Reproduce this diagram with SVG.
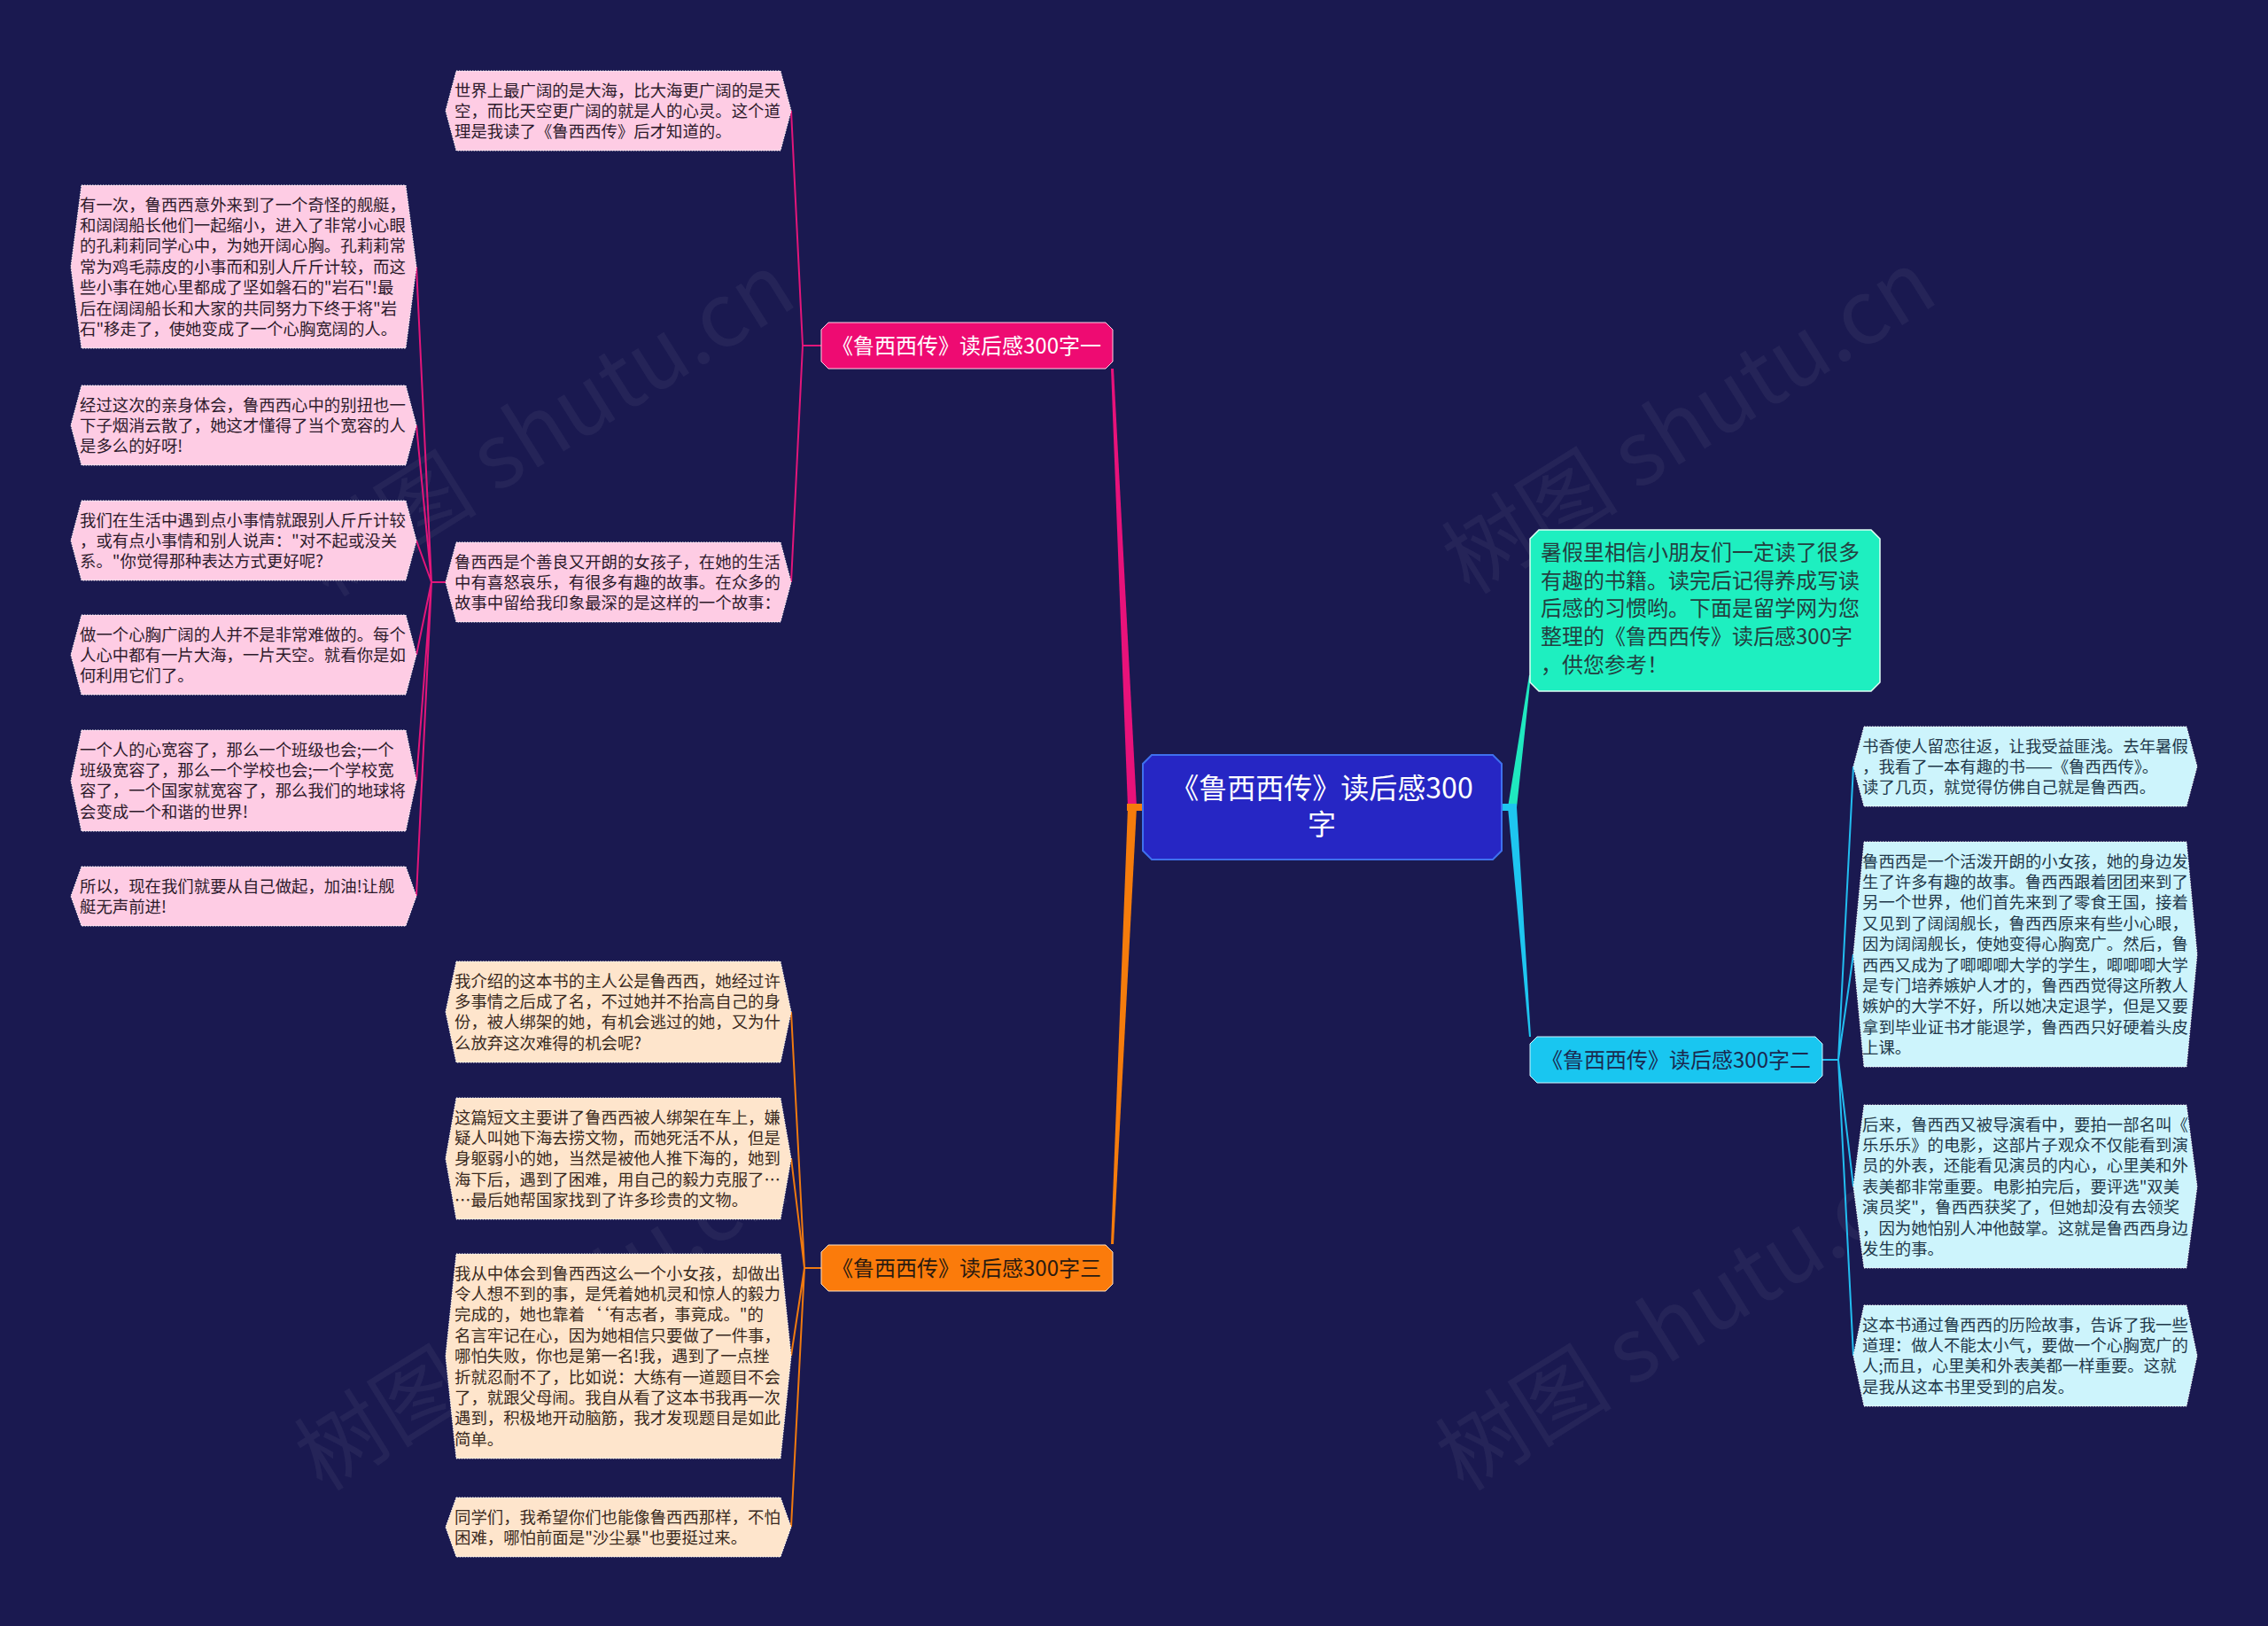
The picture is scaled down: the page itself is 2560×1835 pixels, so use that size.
<svg xmlns="http://www.w3.org/2000/svg" width="2560" height="1835" viewBox="0 0 2560 1835">
<defs>
<style>
.bg{fill:#1a1950}
.wm{font-family:"Noto Sans CJK SC","Noto Sans",sans-serif;font-size:100px;fill:#ffffff;fill-opacity:0.05}
.leaf{stroke:#ffffff;stroke-width:1;stroke-dasharray:1.5 1.5}
.pk{fill:#fecce4}
.pe{fill:#fee5cc}
.cy{fill:#cdf4fc}
.lt{font-family:"Noto Sans CJK SC","Noto Sans",sans-serif;font-size:18.4px}
.tpk{fill:#2d1a2b}
.tpe{fill:#3a2a1e}
.tcy{fill:#22384a}
.c1{stroke:#e2167a;stroke-width:2;fill:none}
.c3{stroke:#f07a10;stroke-width:2;fill:none}
.c2{stroke:#22bdf0;stroke-width:2;fill:none}
.bt{font-family:"Noto Sans CJK SC","Noto Sans",sans-serif;font-size:24px;text-anchor:middle}
</style>
</defs>
<rect class="bg" x="0" y="0" width="2560" height="1835"/>

<g id="watermarks">
<text class="wm" transform="translate(637,509) rotate(-32)" text-anchor="middle">树图 shutu.cn</text>
<text class="wm" transform="translate(1925,506) rotate(-32)" text-anchor="middle">树图 shutu.cn</text>
<text class="wm" transform="translate(630,1518) rotate(-32)" text-anchor="middle">树图 shutu.cn</text>
<text class="wm" transform="translate(1918,1518) rotate(-32)" text-anchor="middle">树图 shutu.cn</text>
</g>

<g id="connectors">
<polygon points="1273,911 1283,911 1257,416 1254,416" fill="#e8127a"/>
<polygon points="1273,911 1283,911 1257,1404 1254,1404" fill="#f57c0c"/>
<rect x="1272" y="907" width="19" height="8" fill="#f57c0c"/>
<polygon points="1702,911 1712,911 1728,762 1726,762" fill="#1fe8c0"/>
<polygon points="1702,911 1712,911 1728,1170 1726,1170" fill="#1ec6f0"/>
<rect x="1694" y="907" width="18" height="8" fill="#1ec6f0"/>
<path class="c1" d="M927,390 L906,390 M906,390 L893,125 M906,390 L893,657"/>
<path class="c1" d="M503,657 L487,657 M487,657 L470,301 M487,657 L470,480 M487,657 L470,610 M487,657 L470,739 M487,657 L470,881 M487,657 L470,1011"/>
<path class="c3" d="M927,1431 L908,1431 M908,1431 L893,1142 M908,1431 L893,1307 M908,1431 L893,1530 M908,1431 L893,1723"/>
<path class="c2" d="M2057,1196 L2075,1196 M2075,1196 L2092,865 M2075,1196 L2092,1077 M2075,1196 L2092,1339 M2075,1196 L2092,1530"/>
</g>

<g id="center">
<path d="M1300,852 L1685,852 L1695,862 L1695,960 L1685,970 L1300,970 L1290,960 L1290,862 Z" fill="#2626c4" stroke="#3f70ee" stroke-width="2"/>
<text font-family="'Noto Sans CJK SC','Noto Sans',sans-serif" font-size="32" fill="#ffffff" text-anchor="middle"><tspan x="1492" y="901">《鲁西西传》读后感300</tspan><tspan x="1492" y="942">字</tspan></text>
</g>

<g id="branch1">
<path d="M935,364 L1248,364 L1256,372 L1256,408 L1248,416 L935,416 L927,408 L927,372 Z" fill="#ee0b72" stroke="#ffd0e4" stroke-width="1"/>
<text class="bt" x="1091" y="399" fill="#ffffff">《鲁西西传》读后感300字一</text>
</g>

<g id="branch3">
<path d="M935,1405 L1248,1405 L1256,1413 L1256,1449 L1248,1457 L935,1457 L927,1449 L927,1413 Z" fill="#fb7b0b" stroke="#ffe0c0" stroke-width="1"/>
<text class="bt" x="1091" y="1440" fill="#2a1a10">《鲁西西传》读后感300字三</text>
</g>

<g id="branch2">
<path d="M1735,1170 L2049,1170 L2057,1178 L2057,1214 L2049,1222 L1735,1222 L1727,1214 L1727,1178 Z" fill="#19c6f0" stroke="#d0f4ff" stroke-width="1"/>
<text class="bt" x="1892" y="1205" fill="#1a2a50">《鲁西西传》读后感300字二</text>
</g>

<g id="intro">
<path d="M1737,598 L2112,598 L2122,608 L2122,770 L2112,780 L1737,780 L1727,770 L1727,608 Z" fill="#1eefc0" stroke="#e0fff5" stroke-width="1.5"/>
<text font-family="'Noto Sans CJK SC','Noto Sans',sans-serif" font-size="24" fill="#234040"><tspan x="1739" y="632"> 暑假里相信小朋友们一定读了很多</tspan><tspan x="1739" y="664">有趣的书籍。读完后记得养成写读</tspan><tspan x="1739" y="695">后感的习惯哟。下面是留学网为您</tspan><tspan x="1739" y="727">整理的《鲁西西传》读后感300字</tspan><tspan x="1739" y="759">，供您参考！</tspan></text>
</g>

<g id="leaf1a">
<path class="leaf pk" d="M515,80 L881,80 L893,125 L881,170 L515,170 L503,125 Z"/>
<text class="lt tpk" y="108.5"><tspan x="513">世界上最广阔的是大海，比大海更广阔的是天</tspan><tspan x="513" dy="23.4">空，而比天空更广阔的就是人的心灵。这个道</tspan><tspan x="513" dy="23.4">理是我读了《鲁西西传》后才知道的。</tspan></text>
</g>

<g id="leaf1b">
<path class="leaf pk" d="M515,612 L881,612 L893,657 L881,702 L515,702 L503,657 Z"/>
<text class="lt tpk" y="640.5"><tspan x="513">鲁西西是个善良又开朗的女孩子，在她的生活</tspan><tspan x="513" dy="23.4">中有喜怒哀乐，有很多有趣的故事。在众多的</tspan><tspan x="513" dy="23.4">故事中留给我印象最深的是这样的一个故事：</tspan></text>
</g>

<g id="leaf2a">
<path class="leaf pk" d="M92,209 L458,209 L470,301 L458,393 L92,393 L80,301 Z"/>
<text class="lt tpk" y="237.5"><tspan x="90">有一次，鲁西西意外来到了一个奇怪的舰艇，</tspan><tspan x="90" dy="23.4">和阔阔船长他们一起缩小，进入了非常小心眼</tspan><tspan x="90" dy="23.4">的孔莉莉同学心中，为她开阔心胸。孔莉莉常</tspan><tspan x="90" dy="23.4">常为鸡毛蒜皮的小事而和别人斤斤计较，而这</tspan><tspan x="90" dy="23.4">些小事在她心里都成了坚如磐石的"岩石"!最</tspan><tspan x="90" dy="23.4">后在阔阔船长和大家的共同努力下终于将"岩</tspan><tspan x="90" dy="23.4">石"移走了，使她变成了一个心胸宽阔的人。</tspan></text>
</g>

<g id="leaf2b">
<path class="leaf pk" d="M92,435 L458,435 L470,480 L458,525 L92,525 L80,480 Z"/>
<text class="lt tpk" y="463.5"><tspan x="90">经过这次的亲身体会，鲁西西心中的别扭也一</tspan><tspan x="90" dy="23.4">下子烟消云散了，她这才懂得了当个宽容的人</tspan><tspan x="90" dy="23.4">是多么的好呀!</tspan></text>
</g>

<g id="leaf2c">
<path class="leaf pk" d="M92,565 L458,565 L470,610 L458,655 L92,655 L80,610 Z"/>
<text class="lt tpk" y="593.5"><tspan x="90">我们在生活中遇到点小事情就跟别人斤斤计较</tspan><tspan x="90" dy="23.4">，或有点小事情和别人说声："对不起或没关</tspan><tspan x="90" dy="23.4">系。"你觉得那种表达方式更好呢?</tspan></text>
</g>

<g id="leaf2d">
<path class="leaf pk" d="M92,694 L458,694 L470,739 L458,784 L92,784 L80,739 Z"/>
<text class="lt tpk" y="722.5"><tspan x="90">做一个心胸广阔的人并不是非常难做的。每个</tspan><tspan x="90" dy="23.4">人心中都有一片大海，一片天空。就看你是如</tspan><tspan x="90" dy="23.4">何利用它们了。</tspan></text>
</g>

<g id="leaf2e">
<path class="leaf pk" d="M92,824 L458,824 L470,881 L458,938 L92,938 L80,881 Z"/>
<text class="lt tpk" y="852.5"><tspan x="90">一个人的心宽容了，那么一个班级也会;一个</tspan><tspan x="90" dy="23.4">班级宽容了，那么一个学校也会;一个学校宽</tspan><tspan x="90" dy="23.4">容了，一个国家就宽容了，那么我们的地球将</tspan><tspan x="90" dy="23.4">会变成一个和谐的世界!</tspan></text>
</g>

<g id="leaf2f">
<path class="leaf pk" d="M92,978 L458,978 L470,1011.5 L458,1045 L92,1045 L80,1011.5 Z"/>
<text class="lt tpk" y="1006.5"><tspan x="90">所以，现在我们就要从自己做起，加油!让舰</tspan><tspan x="90" dy="23.4">艇无声前进!</tspan></text>
</g>

<g id="leaf3a">
<path class="leaf pe" d="M515,1085 L881,1085 L893,1142 L881,1199 L515,1199 L503,1142 Z"/>
<text class="lt tpe" y="1113.5"><tspan x="513">我介绍的这本书的主人公是鲁西西，她经过许</tspan><tspan x="513" dy="23.4">多事情之后成了名，不过她并不抬高自己的身</tspan><tspan x="513" dy="23.4">份，被人绑架的她，有机会逃过的她，又为什</tspan><tspan x="513" dy="23.4">么放弃这次难得的机会呢?</tspan></text>
</g>

<g id="leaf3b">
<path class="leaf pe" d="M515,1239 L881,1239 L893,1307.5 L881,1376 L515,1376 L503,1307.5 Z"/>
<text class="lt tpe" y="1267.5"><tspan x="513">这篇短文主要讲了鲁西西被人绑架在车上，嫌</tspan><tspan x="513" dy="23.4">疑人叫她下海去捞文物，而她死活不从，但是</tspan><tspan x="513" dy="23.4">身躯弱小的她，当然是被他人推下海的，她到</tspan><tspan x="513" dy="23.4">海下后，遇到了困难，用自己的毅力克服了…</tspan><tspan x="513" dy="23.4">…最后她帮国家找到了许多珍贵的文物。</tspan></text>
</g>

<g id="leaf3c">
<path class="leaf pe" d="M515,1415 L881,1415 L893,1530.5 L881,1646 L515,1646 L503,1530.5 Z"/>
<text class="lt tpe" y="1443.5"><tspan x="513">我从中体会到鲁西西这么一个小女孩，却做出</tspan><tspan x="513" dy="23.4">令人想不到的事，是凭着她机灵和惊人的毅力</tspan><tspan x="513" dy="23.4">完成的，她也靠着‘‘有志者，事竟成。"的</tspan><tspan x="513" dy="23.4">名言牢记在心，因为她相信只要做了一件事，</tspan><tspan x="513" dy="23.4">哪怕失败，你也是第一名!我，遇到了一点挫</tspan><tspan x="513" dy="23.4">折就忍耐不了，比如说：大练有一道题目不会</tspan><tspan x="513" dy="23.4">了，就跟父母闹。我自从看了这本书我再一次</tspan><tspan x="513" dy="23.4">遇到，积极地开动脑筋，我才发现题目是如此</tspan><tspan x="513" dy="23.4">简单。</tspan></text>
</g>

<g id="leaf3d">
<path class="leaf pe" d="M515,1690 L881,1690 L893,1723.5 L881,1757 L515,1757 L503,1723.5 Z"/>
<text class="lt tpe" y="1718.5"><tspan x="513">同学们，我希望你们也能像鲁西西那样，不怕</tspan><tspan x="513" dy="23.4">困难，哪怕前面是"沙尘暴"也要挺过来。</tspan></text>
</g>

<g id="leafR1">
<path class="leaf cy" d="M2104,820 L2468,820 L2480,865 L2468,910 L2104,910 L2092,865 Z"/>
<text class="lt tcy" y="848.5"><tspan x="2102">书香使人留恋往返，让我受益匪浅。去年暑假</tspan><tspan x="2102" dy="23.4">，我看了一本有趣的书——《鲁西西传》。</tspan><tspan x="2102" dy="23.4">读了几页，就觉得仿佛自己就是鲁西西。</tspan></text>
</g>

<g id="leafR2">
<path class="leaf cy" d="M2104,950 L2468,950 L2480,1077 L2468,1204 L2104,1204 L2092,1077 Z"/>
<text class="lt tcy" y="978.5"><tspan x="2102">鲁西西是一个活泼开朗的小女孩，她的身边发</tspan><tspan x="2102" dy="23.4">生了许多有趣的故事。鲁西西跟着团团来到了</tspan><tspan x="2102" dy="23.4">另一个世界，他们首先来到了零食王国，接着</tspan><tspan x="2102" dy="23.4">又见到了阔阔舰长，鲁西西原来有些小心眼，</tspan><tspan x="2102" dy="23.4">因为阔阔舰长，使她变得心胸宽广。然后，鲁</tspan><tspan x="2102" dy="23.4">西西又成为了唧唧唧大学的学生，唧唧唧大学</tspan><tspan x="2102" dy="23.4">是专门培养嫉妒人才的，鲁西西觉得这所教人</tspan><tspan x="2102" dy="23.4">嫉妒的大学不好，所以她决定退学，但是又要</tspan><tspan x="2102" dy="23.4">拿到毕业证书才能退学，鲁西西只好硬着头皮</tspan><tspan x="2102" dy="23.4">上课。</tspan></text>
</g>

<g id="leafR3">
<path class="leaf cy" d="M2104,1247 L2468,1247 L2480,1339 L2468,1431 L2104,1431 L2092,1339 Z"/>
<text class="lt tcy" y="1275.5"><tspan x="2102">后来，鲁西西又被导演看中，要拍一部名叫《</tspan><tspan x="2102" dy="23.4">乐乐乐》的电影，这部片子观众不仅能看到演</tspan><tspan x="2102" dy="23.4">员的外表，还能看见演员的内心，心里美和外</tspan><tspan x="2102" dy="23.4">表美都非常重要。电影拍完后，要评选"双美</tspan><tspan x="2102" dy="23.4">演员奖"，鲁西西获奖了，但她却没有去领奖</tspan><tspan x="2102" dy="23.4">，因为她怕别人冲他鼓掌。这就是鲁西西身边</tspan><tspan x="2102" dy="23.4">发生的事。</tspan></text>
</g>

<g id="leafR4">
<path class="leaf cy" d="M2104,1473 L2468,1473 L2480,1530 L2468,1587 L2104,1587 L2092,1530 Z"/>
<text class="lt tcy" y="1501.5"><tspan x="2102">这本书通过鲁西西的历险故事，告诉了我一些</tspan><tspan x="2102" dy="23.4">道理：做人不能太小气，要做一个心胸宽广的</tspan><tspan x="2102" dy="23.4">人;而且，心里美和外表美都一样重要。这就</tspan><tspan x="2102" dy="23.4">是我从这本书里受到的启发。</tspan></text>
</g>
</svg>
